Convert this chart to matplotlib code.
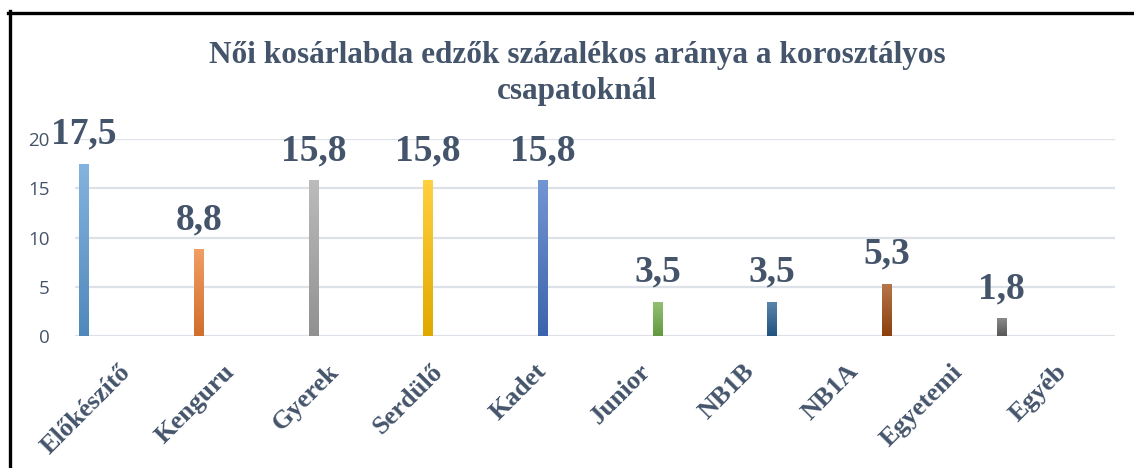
import numpy as np
import matplotlib
matplotlib.use('Agg')
import matplotlib.pyplot as plt
from matplotlib.colors import LinearSegmentedColormap, to_rgb
from matplotlib.lines import Line2D

# data
categories = ['Előkészítő', 'Kenguru', 'Gyerek', 'Serdülő', 'Kadet',
              'Junior', 'NB1B', 'NB1A', 'Egyetemi', 'Egyéb']
# one series per category (Excel style), Egyéb has no series
values = [17.5, 8.8, 15.8, 15.8, 15.8, 3.5, 3.5, 5.3, 1.8]
value_labels = ['17,5', '8,8', '15,8', '15,8', '15,8', '3,5', '3,5', '5,3', '1,8']
colors = ['#5B9BD5', '#ED7D31', '#A5A5A5', '#FFC000', '#4472C4',
          '#70AD47', '#255E91', '#9E480E', '#636363']
yticks = [0, 5, 10, 15, 20]

txt_color = '#44546A'
serif = ['Liberation Serif', 'DejaVu Serif']

fig = plt.figure(figsize=(11.34, 4.68), dpi=100)
ax = fig.add_axes([0.066, 0.282, 0.917, 0.421])

n = len(values)
step = 0.103
bar_w = 0.092
x = np.arange(n) + (np.arange(n) - (n - 1) / 2) * step

bars = ax.bar(x, values, width=bar_w, color=colors, zorder=3)

# vertical gradient on every bar: lighter at top, darker at bottom
for b, c in zip(bars, colors):
    r, g, bl = to_rgb(c)
    top = tuple(min(1, v + (1 - v) * 0.25) for v in (r, g, bl))
    bottom = tuple(v * 0.88 for v in (r, g, bl))
    cmap = LinearSegmentedColormap.from_list('g', [bottom, top])
    grad = np.linspace(0, 1, 100).reshape(-1, 1)
    bx, by = b.get_x(), b.get_y()
    im = ax.imshow(grad, cmap=cmap, origin='lower', aspect='auto',
                   extent=[bx, bx + b.get_width(), by, by + b.get_height()],
                   zorder=4)
    im.set_clip_path(b)

for b, lab in zip(bars, value_labels):
    ax.annotate(lab, (b.get_x() + b.get_width() / 2, b.get_height()),
                xytext=(0, 14.5), textcoords='offset points',
                ha='center', va='baseline', fontsize=27, fontweight='bold',
                family=serif, color=txt_color, zorder=5, annotation_clip=False)

ax.set_xlim(-0.5, len(categories) - 0.5)
ax.set_ylim(0, 20)
ax.set_yticks(yticks)
ax.set_xticks(np.arange(len(categories)))
ax.set_xticklabels(categories, rotation=45, ha='right', va='center',
                   rotation_mode='anchor', fontsize=19, fontweight='bold',
                   family=serif, color=txt_color)
ax.tick_params(axis='x', length=0, pad=23)
ax.tick_params(axis='y', length=0, pad=18, labelsize=13.5, labelcolor=txt_color)
for t in ax.get_yticklabels():
    t.set_family(['Open Sans', 'DejaVu Sans'])

ax.grid(axis='y', color='#DDE1E8', linewidth=1.6, zorder=0)
ax.set_axisbelow(True)
for s in ax.spines.values():
    s.set_visible(False)

fig.text(0.509, 0.843, 'Női kosárlabda edzők százalékos aránya a korosztályos\ncsapatoknál',
         ha='center', va='center', fontsize=22.5, fontweight='bold', family=serif,
         color=txt_color, linespacing=1.32)

# frame lines (left and top)
fig.add_artist(Line2D([9.5 / 1134, 9.5 / 1134], [0, 1 - 11 / 468],
                      transform=fig.transFigure, color='black', linewidth=2.4))
fig.add_artist(Line2D([8 / 1134, 1], [1 - 12.5 / 468, 1 - 12.5 / 468],
                      transform=fig.transFigure, color='black', linewidth=2.4))

fig.savefig('out.png', dpi=100)
